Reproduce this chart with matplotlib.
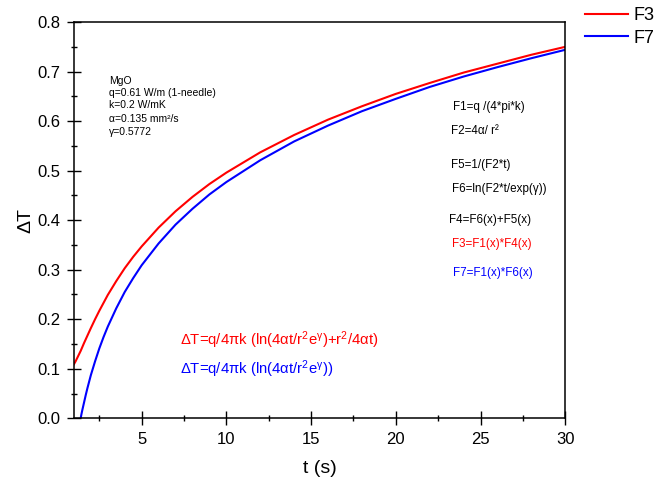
import matplotlib
matplotlib.use("Agg")
import matplotlib.pyplot as plt
from matplotlib.ticker import MultipleLocator, FormatStrFormatter

plt.rcParams['font.family'] = ['Liberation Sans', 'DejaVu Sans']
plt.rcParams['mathtext.fontset'] = 'custom'
plt.rcParams['mathtext.rm'] = 'Liberation Sans'
plt.rcParams['mathtext.it'] = 'Liberation Sans'
plt.rcParams['mathtext.default'] = 'regular'

# values
t_f3 = [1, 1.1, 1.2, 1.3, 1.4, 1.6, 1.8, 2, 2.25, 2.5, 2.75, 3, 3.5, 4, 4.5,
        5, 6, 7, 8, 9, 10, 12, 14, 16, 18, 20, 22, 24, 26, 28, 30]
f3 = [0.109, 0.115, 0.122, 0.129, 0.136, 0.152, 0.167, 0.182, 0.200, 0.217,
      0.233, 0.249, 0.277, 0.303, 0.326, 0.347, 0.385, 0.418, 0.447, 0.473,
      0.496, 0.537, 0.572, 0.603, 0.630, 0.655, 0.677, 0.698, 0.716, 0.734,
      0.750]

t_f7 = [1.4, 1.45, 1.5, 1.6, 1.7, 1.8, 2, 2.25, 2.5, 2.75, 3, 3.5, 4, 4.5,
        5, 6, 7, 8, 9, 10, 12, 14, 16, 18, 20, 22, 24, 26, 28, 30]
f7 = [0.000, 0.009, 0.017, 0.032, 0.047, 0.061, 0.087, 0.115, 0.141, 0.164,
      0.185, 0.222, 0.255, 0.283, 0.309, 0.353, 0.391, 0.423, 0.452, 0.477,
      0.521, 0.559, 0.591, 0.620, 0.645, 0.669, 0.690, 0.709, 0.727, 0.744]

params = ["MgO", "q=0.61 W/m (1-needle)", "k=0.2 W/mK",
          "α=0.135 mm²/s", "γ=0.5772"]
param_y = [0.852, 0.820, 0.791, 0.755, 0.723]

funcs = ["F1=q /(4*pi*k)", "F2=4α/ r²", "F5=1/(F2*t)", "F6=ln(F2*t/exp(γ))",
         "F4=F6(x)+F5(x)", "F3=F1(x)*F4(x)", "F7=F1(x)*F6(x)"]
func_x = [0.771, 0.767, 0.767, 0.769, 0.764, 0.769, 0.771]
func_y = [0.786, 0.725, 0.639, 0.579, 0.500, 0.440, 0.367]
func_c = ["black", "black", "black", "black", "black", "red", "blue"]

fig = plt.figure(figsize=(6.58, 4.83), dpi=100)
ax = fig.add_axes([0.1123, 0.134, 0.7467, 0.8203])

ax.plot(t_f3, f3, color="red", lw=1.5, label="F3")
ax.plot(t_f7, f7, color="blue", lw=1.5, label="F7")

ax.set_xlim(1, 30)
ax.set_ylim(0, 0.8)
ax.xaxis.set_major_locator(MultipleLocator(5))
ax.xaxis.set_minor_locator(MultipleLocator(2.5))
ax.yaxis.set_major_locator(MultipleLocator(0.1))
ax.yaxis.set_minor_locator(MultipleLocator(0.05))
ax.yaxis.set_major_formatter(FormatStrFormatter("%.1f"))
ax.tick_params(which="major", direction="inout", length=10, width=1, labelsize=12, pad=5)
ax.tick_params(which="minor", direction="inout", length=5, width=1)
for s in ax.spines.values():
    s.set_linewidth(1.1)

ax.set_xlabel("t (s)", fontsize=14, labelpad=9)
ax.set_ylabel("ΔT", fontsize=14, labelpad=2)

for txt, y in zip(params, param_y):
    ax.text(0.072, y, txt, transform=ax.transAxes, fontsize=7.5, va="center")

for txt, x, y, c in zip(funcs, func_x, func_y, func_c):
    ax.text(x, y, txt, transform=ax.transAxes, fontsize=8.4, va="center", color=c)

ax.text(0.216, 0.198, r"ΔT=q/4πk (ln(4αt/r$^2$e$^γ$)+r$^2$/4αt)",
        transform=ax.transAxes, fontsize=10.7, color="red", va="center")
ax.text(0.216, 0.124, r"ΔT=q/4πk (ln(4αt/r$^2$e$^γ$))",
        transform=ax.transAxes, fontsize=10.7, color="blue", va="center")

fig.legend(loc="upper left", bbox_to_anchor=(585 / 658, 0.985), frameon=False,
           fontsize=13, borderpad=0, borderaxespad=0, handlelength=2.4,
           handletextpad=0.3, labelspacing=0.3)

fig.savefig("out.png", dpi=100)
